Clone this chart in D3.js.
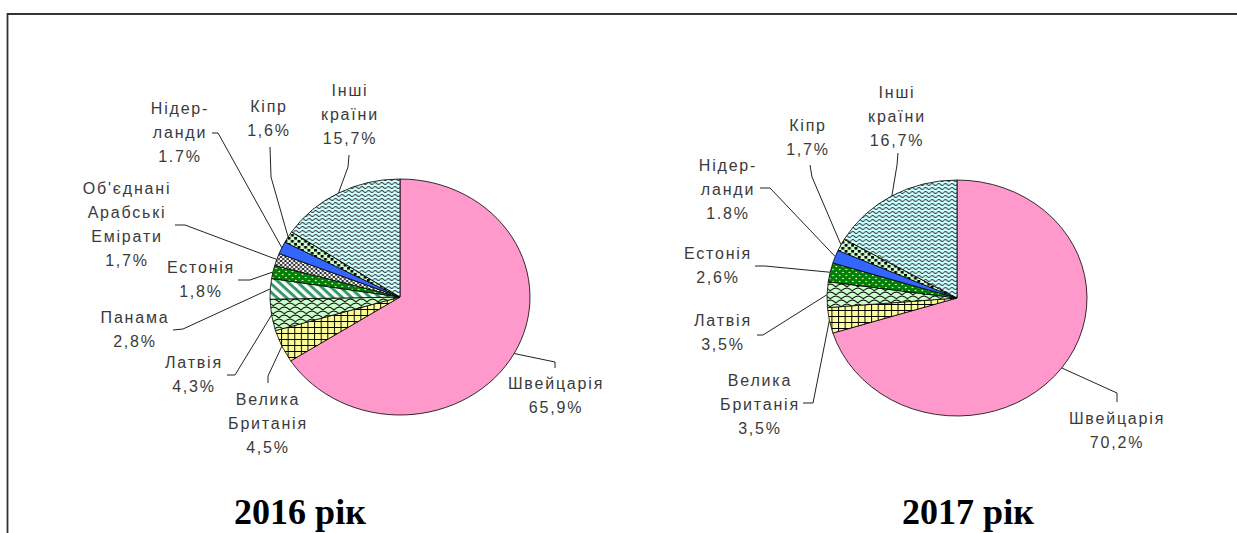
<!DOCTYPE html>
<html><head><meta charset="utf-8">
<script src="https://cdn.jsdelivr.net/npm/d3@7"></script>
<style>
html,body{margin:0;padding:0;background:#fff;}
svg{display:block;}
</style></head>
<body>
<svg id="chart" width="1237" height="533"></svg>
<script>
// ---------- DATA ----------
const countries2016 = ["Швейцарія","Велика Британія","Латвія","Панама","Естонія","Об'єднані Арабські Емірати","Нідерланди","Кіпр","Інші країни"];
const values2016 = [65.9, 4.5, 4.3, 2.8, 1.8, 1.7, 1.7, 1.6, 15.7];
const nameLines2016 = [["Швейцарія"],["Велика","Британія"],["Латвія"],["Панама"],["Естонія"],["Об'єднані","Арабські","Емірати"],["Нідер-","ланди"],["Кіпр"],["Інші","країни"]];
const pctLabels2016 = ["65,9%","4,5%","4,3%","2,8%","1,8%","1,7%","1.7%","1,6%","15,7%"];

const countries2017 = ["Швейцарія","Велика Британія","Латвія","Естонія","Нідерланди","Кіпр","Інші країни"];
const values2017 = [70.2, 3.5, 3.5, 2.6, 1.8, 1.7, 16.7];
const nameLines2017 = [["Швейцарія"],["Велика","Британія"],["Латвія"],["Естонія"],["Нідер-","ланди"],["Кіпр"],["Інші","країни"]];
const pctLabels2017 = ["70,2%","3,5%","3,5%","2,6%","1.8%","1,7%","16,7%"];

const years = ["2016 рік","2017 рік"];

// ---------- STYLE / LAYOUT ----------
const fillOf = {
  "Швейцарія":"#FF99CC",
  "Велика Британія":"url(#pGrid)",
  "Латвія":"url(#pScale)",
  "Панама":"url(#pStripe)",
  "Естонія":"url(#pDots)",
  "Об'єднані Арабські Емірати":"url(#pDiamond)",
  "Нідерланди":"#3366FF",
  "Кіпр":"url(#pCheck)",
  "Інші країни":"url(#pWave)"
};

const layout2016 = {
  cx:400, cy:297, rx:130, ry:118, titleX:300,
  labels:[
    {x:556,y:383,lead:[[555,368],[555,362]]},
    {x:268,y:399,lead:[[268,383],[268,376]]},
    {x:194,y:362,lead:[[227,375],[235,375]]},
    {x:135,y:317,lead:[[173,330],[183,329]]},
    {x:201,y:267,lead:[[238,280],[250,280]]},
    {x:127,y:188,lead:[[175,225],[185,225]]},
    {x:180,y:108,lead:[[212,133],[218,133]]},
    {x:269,y:106,lead:[[270,147],[271,177]]},
    {x:350,y:90, lead:[[349,155],[348,167]]}
  ]
};
const layout2017 = {
  cx:957, cy:298, rx:130, ry:118, titleX:968,
  labels:[
    {x:1117,y:418,lead:[[1117,402],[1117,393]]},
    {x:760,y:380,lead:[[803,403],[813,403]]},
    {x:723,y:320,lead:[[757,335],[763,335]]},
    {x:718,y:253,lead:[[755,266],[765,266]]},
    {x:728,y:165,lead:[[760,188],[770,188]]},
    {x:808,y:125,lead:[[810,165],[812,177]]},
    {x:897,y:92, lead:[[898,153],[897,165]]}
  ]
};

const svg = d3.select("#chart");

// ---------- PATTERNS ----------
const defs = svg.append("defs");
function pat(id, w, h, bg, extra){
  const p = defs.append("pattern").attr("id",id).attr("patternUnits","userSpaceOnUse")
    .attr("width",w).attr("height",h);
  if (extra) p.attr("patternTransform", extra);
  p.append("rect").attr("width",w).attr("height",h).attr("fill",bg);
  return p;
}
let p;
p = pat("pGrid",6,6,"#FFFF99");
p.append("path").attr("d","M0,0.5H6M0.5,0V6").attr("stroke","#000").attr("stroke-width",0.9).attr("fill","none");

p = pat("pScale",10,8,"#CCFFCC");
p.append("path").attr("d","M0,5 Q5,-1 10,5 M-5,9 Q0,3 5,9 M5,9 Q10,3 15,9 M-5,1 Q0,-5 5,1 M5,1 Q10,-5 15,1")
  .attr("stroke","#000").attr("stroke-width",1).attr("fill","none");

p = pat("pStripe",6,6,"#FFFFFF","rotate(45)");
p.append("rect").attr("width",6).attr("height",2.8).attr("fill","#339966");

p = pat("pDots",6,6,"#008000");
p.append("circle").attr("cx",1.5).attr("cy",1.5).attr("r",0.8).attr("fill","#fff");
p.append("circle").attr("cx",4.5).attr("cy",4.5).attr("r",0.8).attr("fill","#fff");

p = pat("pDiamond",4,4,"#FFFFFF");
p.append("path").attr("d","M0,0L4,4M4,0L0,4").attr("stroke","#000").attr("stroke-width",0.8).attr("fill","none");

p = pat("pCheck",6,6,"#CCFFCC");
p.append("rect").attr("x",0).attr("y",0).attr("width",2.6).attr("height",2.6).attr("fill","#000");
p.append("rect").attr("x",3).attr("y",3).attr("width",2.6).attr("height",2.6).attr("fill","#000");

p = pat("pWave",6,4,"#CCFFFF");
p.append("path").attr("d","M0,2.5 Q1.5,0.5 3,2.5 T6,2.5").attr("stroke","#333").attr("stroke-width",0.9).attr("fill","none");

// ---------- BORDER ----------
svg.append("path").attr("d","M7.5,533 V14 H1237").attr("fill","none").attr("stroke","#333").attr("stroke-width",1.8);

// ---------- PIES ----------
function drawPie(names, values, nameLines, pcts, L, title){
  const data = names.map((n,i)=>({name:n, value:values[i], lines:nameLines[i], pct:pcts[i], lay:L.labels[i]}));
  const pie = d3.pie().value(d=>d.value).sort(null).startAngle(0).endAngle(2*Math.PI);
  const arcs = pie(data);
  const sx = L.rx / L.ry;
  const arc = d3.arc().innerRadius(0).outerRadius(L.ry);
  const g = svg.append("g").attr("transform",`translate(${L.cx},${L.cy}) scale(${sx},1)`);
  g.selectAll("path").data(arcs).join("path")
    .attr("d",arc)
    .attr("fill",d=>fillOf[d.data.name])
    .attr("stroke","#000").attr("stroke-width",0.8)
    .attr("vector-effect","non-scaling-stroke");

  // leader lines to slice mid-angle on the edge
  const line = d3.line();
  const lg = svg.append("g");
  arcs.forEach(a=>{
    const mid = (a.startAngle + a.endAngle)/2;
    const ex = L.cx + Math.sin(mid)*L.rx;
    const ey = L.cy - Math.cos(mid)*L.ry;
    const pts = a.data.lay.lead.concat([[ex,ey]]);
    lg.append("path").attr("d",line(pts)).attr("fill","none").attr("stroke","#222").attr("stroke-width",1);
  });

  // labels
  const tg = svg.append("g").attr("font-family","'Liberation Sans', Arial, sans-serif")
    .attr("font-size",16).attr("fill","#3a3a3a").attr("letter-spacing","1.8px").attr("text-anchor","middle");
  arcs.forEach(a=>{
    const lines = a.data.lines.concat([a.data.pct]);
    const t = tg.append("text").attr("x",a.data.lay.x).attr("y",a.data.lay.y).attr("dy","0.35em");
    lines.forEach((s,i)=>{
      t.append("tspan").attr("x",a.data.lay.x).attr("dy", i===0? "0.35em" : 24).text(s);
    });
  });

  svg.append("text").attr("x",L.titleX).attr("y",524).attr("text-anchor","middle")
    .attr("font-family","'Liberation Serif','Times New Roman',serif").attr("font-weight","bold")
    .attr("font-size",36).attr("fill","#000").text(title);
}

drawPie(countries2016, values2016, nameLines2016, pctLabels2016, layout2016, years[0]);
drawPie(countries2017, values2017, nameLines2017, pctLabels2017, layout2017, years[1]);
</script>
</body></html>
